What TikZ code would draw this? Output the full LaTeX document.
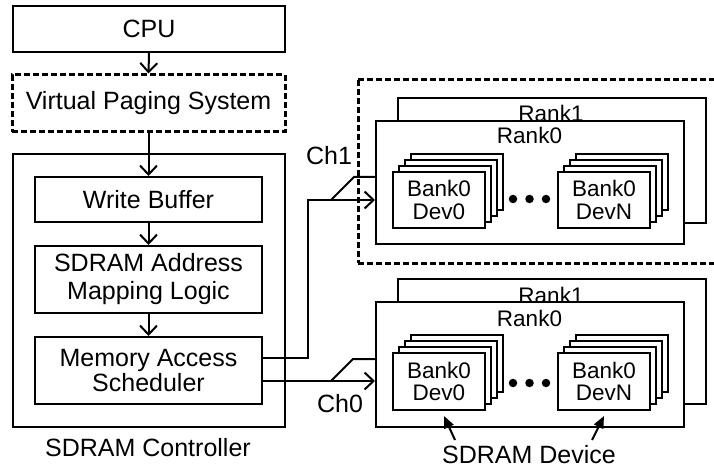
\documentclass[tikz,border=0pt]{standalone}
\usepackage{fontspec}
\setmainfont{Liberation Sans}
\usetikzlibrary{arrows.meta}
\tikzset{
  blk/.style={draw, line width=2pt, fill=white, inner sep=0pt, align=center,
    font=\fontsize{25}{26}\selectfont},
  dbox/.style={draw, line width=3pt, dash pattern=on 6pt off 3pt, inner sep=0pt},
  bank/.style={draw, line width=2pt, fill=white, inner sep=0pt, minimum width=92pt, minimum height=56pt},
  bankt/.style={align=center, font=\fontsize{22.5}{22.5}\selectfont, inner sep=0pt},
  rnk/.style={draw, line width=2pt, fill=white, inner sep=0pt},
  lbl/.style={font=\fontsize{25}{26}\selectfont, inner sep=0pt},
  rlbl/.style={font=\fontsize{22.5}{24}\selectfont, inner sep=0pt, anchor=base},
  ar/.style={line width=2pt, -{Straight Barb[length=9pt,width=17pt,line width=2pt]}},
  ln/.style={line width=2pt},
  dar/.style={line width=2pt, -{Triangle[length=12pt,width=10pt]}},
  dot/.style={fill=black, circle, inner sep=0pt, minimum size=8.5pt}
}
\begin{document}
\begin{tikzpicture}[x=1pt,y=-1pt]
\useasboundingbox (0,0) rectangle (714,470);

% left column
\node[blk, minimum width=272pt, minimum height=46pt] (cpu) at (149,29) {CPU};
\node[dbox, minimum width=273pt, minimum height=57pt, font=\fontsize{25}{26}\selectfont] (vps) at (148.5,103.5) {Virtual Paging System};
\node[blk, minimum width=272pt, minimum height=273pt] (ctrl) at (149,290.5) {};
\node[blk, minimum width=227pt, minimum height=45pt] (wb) at (148.5,199.5) {Write Buffer};
\node[blk, minimum width=227pt, minimum height=67pt, font=\fontsize{25}{28}\selectfont] (addr) at (148.5,279.5) {SDRAM Address\\Mapping Logic};
\node[blk, minimum width=227pt, minimum height=67pt, font=\fontsize{25}{24.5}\selectfont] (sched) at (148.5,370.5) {Memory Access\\Scheduler};
\node[lbl] (ctrllbl) at (148,448) {SDRAM Controller};

\draw[ar] (cpu.south) -- (vps.north);
\draw[ar] (vps.south) -- (wb.north);
\draw[ar] (wb.south) -- (addr.north);
\draw[ar] (addr.south) -- (sched.north);

% channel 1 dashed box
\draw[dbox] (358,80) -- (720,80);
\draw[dbox] (358,80) -- (358,263);
\draw[dbox] (358,263) -- (720,263);
\node[lbl] (ch1) at (329,156) {Ch1};

% channel 1 device
\node[rnk, minimum width=308pt, minimum height=125pt] (r1a) at (552,160.5) {};
\node[rlbl] (r1alab) at (551,122) {Rank1};
\node[rnk, minimum width=308pt, minimum height=123pt] (r0a) at (530,182.5) {};
\node[rlbl] (r0alab) at (529.5,144) {Rank0};
\foreach \i in {3,2,1} {
  \node[bank] at (439+6*\i,200-6*\i) {};
  \node[bank] at (604+6*\i,200-6*\i) {};
}
\node[bank] (b0a) at (439,200) {};
\node[bankt] at (b0a) {Bank0\\Dev0};
\node[bank] (bna) at (604,200) {};
\node[bankt] at (bna) {Bank0\\DevN};
\node[dot] (d1a) at (513,199) {};
\node[dot] (d2a) at (529.5,199) {};
\node[dot] (d3a) at (546,199) {};

% channel 0 device
\node[rnk, minimum width=308pt, minimum height=125pt] (r1b) at (552,341.5) {};
\node[rlbl] (r1blab) at (551,303) {Rank1};
\node[rnk, minimum width=308pt, minimum height=125pt] (r0b) at (530,364.5) {};
\node[rlbl] (r0blab) at (529.5,326) {Rank0};
\foreach \i in {3,2,1} {
  \node[bank, minimum height=57pt] at (439+6*\i,381.5-6*\i) {};
  \node[bank, minimum height=57pt] at (604+6*\i,381.5-6*\i) {};
}
\node[bank, minimum height=57pt] (b0b) at (439,381.5) {};
\node[bankt] at (b0b) {Bank0\\Dev0};
\node[bank, minimum height=57pt] (bnb) at (604,381.5) {};
\node[bankt] at (bnb) {Bank0\\DevN};
\node[dot] (d1b) at (513,383) {};
\node[dot] (d2b) at (529.5,383) {};
\node[dot] (d3b) at (546,383) {};
\node[lbl] (ch0) at (340,404) {Ch0};

% connectors
\coordinate (s1) at (sched.east |- 0,358);
\coordinate (s0) at (sched.east |- 0,381);
\coordinate (t1) at (r0a.west |- 0,200);
\coordinate (t0) at (r0b.west |- 0,381);
\draw[ar] (s1) -- (308,358) -- (308,200) -- (t1);
\draw[ln] (331,200) -- (354,177) -- (r0a.west |- 0,177);
\draw[ar] (s0) -- (t0);
\draw[ln] (331,381) -- (353,359) -- (r0b.west |- 0,359);

% SDRAM Device
\node[lbl] (devlbl) at (529,455) {SDRAM Device};
\draw[dar] (455,440) -- (444,416);
\draw[dar] (592,440) -- (604,416);
\end{tikzpicture}
\end{document}
